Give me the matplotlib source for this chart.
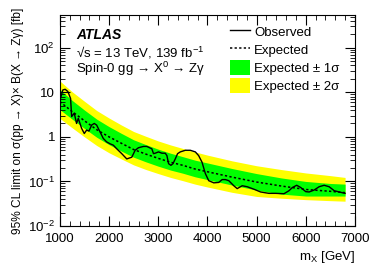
import numpy as np
import matplotlib
matplotlib.use("Agg")
import matplotlib.pyplot as plt
from matplotlib.lines import Line2D
from matplotlib.patches import Patch
from matplotlib.ticker import MultipleLocator, LogLocator, NullFormatter, FixedLocator, FixedFormatter

plt.rcParams["font.family"] = ["Liberation Sans", "DejaVu Sans"]
plt.rcParams["mathtext.fontset"] = "custom"
plt.rcParams["mathtext.rm"] = "Liberation Sans"
plt.rcParams["mathtext.it"] = "Liberation Sans:italic"

# ---- expected limit and bands (fb) ----
m_exp = [1000, 1250, 1500, 1750, 2000, 2250, 2500, 2750, 3000, 3250, 3500, 3750, 4000,
         4500, 5000, 5500, 6000, 6500, 6800]
expected = [6.2, 3.7, 2.3, 1.45, 1.0, 0.72, 0.52, 0.41, 0.33, 0.27, 0.23, 0.19, 0.165,
            0.125, 0.097, 0.079, 0.066, 0.060, 0.056]
up1 = [11.5, 6.6, 4.0, 2.5, 1.7, 1.2, 0.86, 0.67, 0.53, 0.43, 0.36, 0.30, 0.26,
       0.195, 0.150, 0.120, 0.100, 0.090, 0.087]
dn1 = [4.1, 2.5, 1.55, 0.98, 0.67, 0.48, 0.35, 0.275, 0.22, 0.18, 0.153, 0.127, 0.11,
       0.083, 0.064, 0.052, 0.047, 0.047, 0.047]
up2 = [18.0, 10.3, 6.3, 3.9, 2.65, 1.85, 1.32, 1.03, 0.81, 0.66, 0.55, 0.46, 0.39,
       0.29, 0.225, 0.185, 0.155, 0.135, 0.123]
dn2 = [2.6, 1.6, 1.0, 0.64, 0.44, 0.32, 0.235, 0.185, 0.15, 0.123, 0.104, 0.087, 0.075,
       0.057, 0.046, 0.042, 0.039, 0.037, 0.036]

# ---- observed limit (fb) ----
m_obs = [1000, 1014, 1061, 1108, 1163, 1218, 1240, 1293, 1340, 1375, 1443, 1497, 1545,
         1592, 1647, 1700, 1748, 1816, 1884, 1952, 2020, 2088, 2157, 2259, 2361, 2463,
         2531, 2598, 2700, 2769, 2871, 2904, 2939, 3006, 3075, 3143, 3177, 3211, 3259,
         3300, 3347, 3394, 3449, 3551, 3653, 3755, 3822, 3891, 3959, 4027, 4129, 4231,
         4300, 4367, 4435, 4537, 4606, 4708, 4810, 4945, 5082, 5251, 5388, 5558, 5660,
         5728, 5816, 5898, 6000, 6068, 6170, 6272, 6374, 6476, 6578, 6680, 6800]
observed = [6.5, 7.3, 11.3, 11.7, 10.4, 7.3, 2.85, 3.4, 2.0, 2.6, 1.55, 1.19, 1.42,
            1.35, 1.84, 2.0, 1.84, 1.3, 0.92, 0.77, 0.70, 0.65, 0.54, 0.42, 0.32, 0.35,
            0.50, 0.57, 0.61, 0.61, 0.54, 0.42, 0.43, 0.46, 0.43, 0.43, 0.38, 0.25, 0.23,
            0.25, 0.32, 0.42, 0.46, 0.50, 0.50, 0.46, 0.38, 0.27, 0.15, 0.104, 0.093, 0.095,
            0.11, 0.11, 0.104, 0.08, 0.069, 0.08, 0.076, 0.067, 0.058, 0.054, 0.054, 0.053,
            0.062, 0.073, 0.082, 0.073, 0.059, 0.058, 0.064, 0.076, 0.082, 0.076, 0.062,
            0.058, 0.054]

fig = plt.figure(figsize=(3.74, 2.70), dpi=100)
ax = fig.add_axes([0.160, 0.163, 0.789, 0.781])

ax.fill_between(m_exp, dn2, up2, color="#ffff00", lw=0)
ax.fill_between(m_exp, dn1, up1, color="#00ff00", lw=0)
ax.plot(m_exp, expected, color="black", ls=(0, (1.5, 1.5)), lw=1.1)
ax.plot(m_obs, observed, color="black", lw=1.0)

ax.set_yscale("log")
ax.set_xlim(1000, 7000)
ax.set_ylim(0.01, 540)

ax.xaxis.set_major_locator(MultipleLocator(1000))
ax.xaxis.set_minor_locator(MultipleLocator(200))
ax.yaxis.set_major_locator(FixedLocator([0.01, 0.1, 1, 10, 100]))
ax.yaxis.set_major_formatter(FixedFormatter([r"10$^{-2}$", r"10$^{-1}$", "1", "10", r"10$^{2}$"]))
ax.yaxis.set_minor_locator(LogLocator(base=10, subs=np.arange(2, 10)))
ax.yaxis.set_minor_formatter(NullFormatter())
ax.tick_params(which="both", direction="in", top=True, right=True, labelsize=9.5)
ax.tick_params(which="major", length=7, width=0.8)
ax.tick_params(which="minor", length=3.5, width=0.6)
ax.tick_params(axis="x", pad=5)

ax.set_ylabel("95% CL limit on σ(pp → X)× B(X → Zγ) [fb]", fontsize=8.6, labelpad=3)
ax.set_xlabel(r"m$_\mathrm{X}$ [GeV]", fontsize=9.5, loc="right", labelpad=3)

ax.text(0.055, 0.905, "ATLAS", transform=ax.transAxes, fontsize=10, fontweight="bold",
        fontstyle="italic", va="center")
ax.text(0.055, 0.82, "√s = 13 TeV, 139 fb$^{-1}$", transform=ax.transAxes, fontsize=9.5,
        va="center")
ax.text(0.055, 0.745, "Spin-0 gg → X$^{0}$ → Zγ", transform=ax.transAxes, fontsize=9.5,
        va="center")

handles = [Line2D([], [], color="black", lw=1.0),
           Line2D([], [], color="black", lw=1.1, ls=(0, (1.5, 1.5))),
           Patch(facecolor="#00ff00", edgecolor="none"),
           Patch(facecolor="#ffff00", edgecolor="none")]
labels = ["Observed", "Expected", "Expected ± 1σ", "Expected ± 2σ"]
ax.legend(handles, labels, loc="upper left", bbox_to_anchor=(0.56, 0.98), frameon=False,
          fontsize=9.5, handlelength=1.5, handleheight=1.3, handletextpad=0.3,
          labelspacing=0.25, borderaxespad=0)

fig.savefig("out.png", dpi=100)
